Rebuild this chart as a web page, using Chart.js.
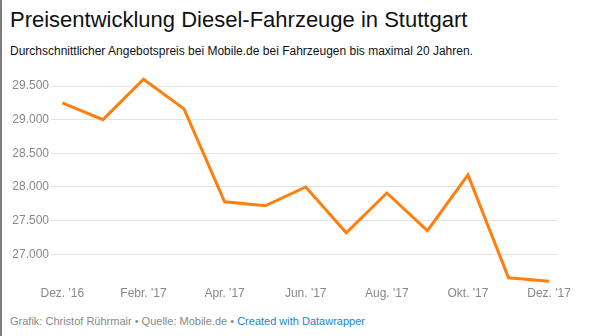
<!DOCTYPE html>
<html><head><meta charset="utf-8">
<script src="https://cdn.jsdelivr.net/npm/chart.js@4"></script>
<style>
html,body{margin:0;padding:0;background:#fff;}
body{width:615px;height:336px;position:relative;overflow:hidden;font-family:"Liberation Sans",Arial,sans-serif;}
#lb{position:absolute;left:0;top:0;width:2px;height:336px;background:#7b7b7b;}
.t{position:absolute;left:10px;white-space:nowrap;}
#title{top:9px;font-size:22px;line-height:22px;color:#111;}
#sub{top:45px;font-size:12px;line-height:12px;color:#111;}
#foot{top:316px;font-size:11px;line-height:11px;color:#888;}
#foot a{color:#1a87c9;text-decoration:none;}
#wrap{position:absolute;left:0;top:60px;width:615px;height:242px;}
</style></head>
<body>
<div id="lb"></div>
<div class="t" id="title">Preisentwicklung Diesel-Fahrzeuge in Stuttgart</div>
<div class="t" id="sub">Durchschnittlicher Angebotspreis bei Mobile.de bei Fahrzeugen bis maximal 20 Jahren.</div>
<div id="wrap"><canvas id="c"></canvas></div>
<div class="t" id="foot">Grafik: Christof Rührmair • Quelle: Mobile.de • <a>Created with Datawrapper</a></div>
<script>
const months = ["Dez. '16","Jan. '17","Febr. '17","März '17","Apr. '17","Mai '17","Jun. '17","Jul. '17","Aug. '17","Sept. '17","Okt. '17","Nov. '17","Dez. '17"];
const prices = [29250,29000,29600,29160,27780,27720,28000,27320,27910,27350,28180,26650,26600];
const xTickIdx = [0,2,4,6,8,10,12];
const yTicks = [27000,27500,28000,28500,29000,29500];

new Chart(document.getElementById('c'), {
  type: 'line',
  data: {
    datasets: [{
      data: prices.map((v,i)=>({x:i,y:v})),
      borderColor: '#ff7f0e',
      borderWidth: 3,
      pointRadius: 0,
      tension: 0,
      fill: false,
      clip: false,
      borderJoinStyle: 'miter'
    }]
  },
  options: {
    responsive: true,
    maintainAspectRatio: false,
    animation: false,
    layout: {padding: {top: 15, right: 57, left: 0, bottom: 0}},
    plugins: {legend: {display: false}, tooltip: {enabled: false}},
    scales: {
      x: {
        type: 'linear',
        min: -0.28,
        max: 12.22,
        afterBuildTicks: s => { s.ticks = xTickIdx.map(v=>({value:v})); },
        afterFit: s => { s.height = 17; },
        grid: {display: false, drawTicks: false},
        border: {display: false},
        ticks: {
          autoSkip: false, maxRotation: 0, padding: 1,
          color: '#888', font: {family: '"Liberation Sans", Arial, sans-serif', size: 12},
          callback: v => months[v]
        }
      },
      y: {
        min: 26543,
        max: 29664,
        afterBuildTicks: s => { s.ticks = yTicks.map(v=>({value:v})); },
        afterFit: s => { s.width = 51; },
        grid: {color: '#e3e3e3', lineWidth: 1, drawTicks: false},
        border: {display: false},
        ticks: {
          padding: 2, color: '#888',
          font: {family: '"Liberation Sans", Arial, sans-serif', size: 12},
          callback: v => v.toLocaleString('de-DE')
        }
      }
    }
  }
});
</script>
</body></html>
